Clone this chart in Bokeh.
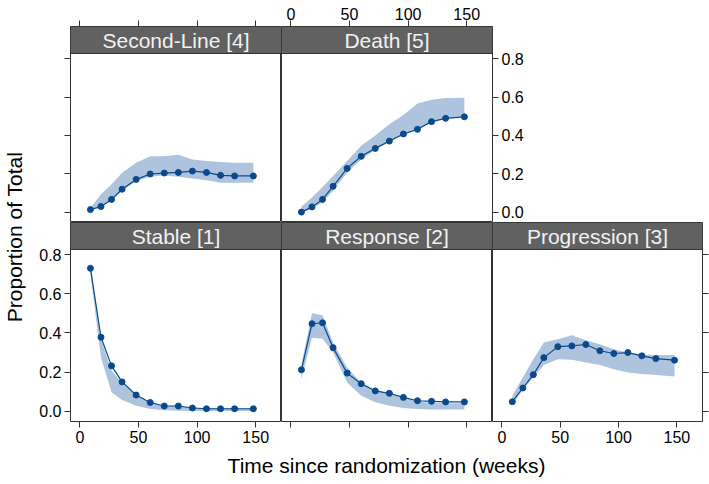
from bokeh.plotting import figure
from bokeh.layouts import row, column
from bokeh.models import (Range1d, FixedTicker, NumeralTickFormatter, LinearAxis,
                          BoxAnnotation, Label)
from bokeh.embed import file_html
from bokeh.resources import INLINE
from bokeh.core.validation import silence
from bokeh.core.validation.warnings import MISSING_RENDERERS

silence(MISSING_RENDERERS, True)

# ---------------- data ----------------
weeks = [9, 18, 27, 36, 48, 60, 72, 84, 96, 108, 120, 132, 148]

stable_mid = [0.730, 0.378, 0.232, 0.150, 0.083, 0.045, 0.027, 0.027, 0.017, 0.013, 0.013, 0.013, 0.013]
stable_lo = [0.700, 0.275, 0.097, 0.058, 0.029, 0.012, 0.005, 0.003, 0.002, 0.002, 0.002, 0.002, 0.002]
stable_hi = [0.760, 0.368, 0.207, 0.147, 0.083, 0.045, 0.027, 0.030, 0.020, 0.015, 0.015, 0.015, 0.015]

response_mid = [0.212, 0.447, 0.452, 0.325, 0.195, 0.141, 0.104, 0.092, 0.071, 0.054, 0.051, 0.048, 0.048]
response_lo = [0.165, 0.376, 0.370, 0.300, 0.147, 0.080, 0.046, 0.029, 0.017, 0.012, 0.009, 0.009, 0.009]
response_hi = [0.240, 0.500, 0.490, 0.351, 0.224, 0.145, 0.110, 0.090, 0.070, 0.052, 0.043, 0.041, 0.041]

progression_mid = [0.049, 0.119, 0.187, 0.274, 0.330, 0.334, 0.341, 0.309, 0.295, 0.300, 0.283, 0.269, 0.261]
progression_lo = [0.035, 0.110, 0.173, 0.236, 0.266, 0.263, 0.249, 0.236, 0.215, 0.198, 0.190, 0.185, 0.178]
progression_hi = [0.080, 0.173, 0.266, 0.351, 0.368, 0.388, 0.363, 0.342, 0.317, 0.300, 0.290, 0.287, 0.287]

secondline_mid = [0.015, 0.031, 0.068, 0.121, 0.172, 0.200, 0.205, 0.208, 0.215, 0.208, 0.193, 0.190, 0.190]
secondline_lo = [0.010, 0.027, 0.061, 0.113, 0.164, 0.186, 0.192, 0.186, 0.176, 0.168, 0.155, 0.155, 0.155]
secondline_hi = [0.022, 0.095, 0.147, 0.207, 0.258, 0.292, 0.292, 0.300, 0.275, 0.267, 0.262, 0.258, 0.258]

death_mid = [0.002, 0.029, 0.068, 0.136, 0.229, 0.292, 0.333, 0.371, 0.408, 0.432, 0.472, 0.489, 0.497]
death_lo = [0.000, 0.020, 0.053, 0.113, 0.207, 0.275, 0.326, 0.366, 0.403, 0.432, 0.468, 0.489, 0.497]
death_hi = [0.030, 0.078, 0.133, 0.190, 0.267, 0.347, 0.400, 0.458, 0.506, 0.566, 0.586, 0.595, 0.596]

x_ticks = [0, 50, 100, 150]
y_ticks = [0.0, 0.2, 0.4, 0.6, 0.8]

# ---------------- style / geometry ----------------
FONT = "Liberation Sans"
EDGE = "#333333"
BLUE = "#0a4a8c"
BAND = "#aec4de"
STRIP_FILL = "#616161"
STRIP_TEXT = "#f2f2f2"

X0, X1 = -8.0, 172.0
Y0, Y1 = -0.052, 0.826

PW = [211, 211, 210]   # panel (frame) widths per column
STRIP_H = 27           # strip height
PA, PB = 169, 172      # panel heights (top row, bottom row)
TOP_B = 26
BOT_B = 28
YLAB_W = 25
LEFT_B = 70 - YLAB_W
RIGHT_B = 7


def make_axis(dim, show_labels, standoff=3, **extra):
    ax = LinearAxis(
        ticker=FixedTicker(ticks=x_ticks if dim == "x" else y_ticks),
        axis_line_color=None,
        major_tick_in=0, major_tick_out=6,
        major_tick_line_color=EDGE, major_tick_line_width=1,
        minor_tick_line_color=None,
        major_label_standoff=standoff,
        major_label_text_font=FONT,
        major_label_text_font_size="16px",
        major_label_text_color="black" if show_labels else None,
        **extra)
    if dim == "y":
        ax.formatter = NumeralTickFormatter(format="0.0")
    return ax


def make_panel(name, lo, mid, hi, col, panel_h, left, right, top, bottom, axes):
    width = left + PW[col] + right
    height = top + STRIP_H + panel_h + bottom
    y_end = Y1 + (Y1 - Y0) * STRIP_H / panel_h
    p = figure(width=width, height=height,
               x_range=Range1d(X0, X1), y_range=Range1d(Y0, y_end),
               output_backend="svg", toolbar_location=None,
               x_axis_location=None, y_axis_location=None,
               min_border_left=left, min_border_right=right,
               min_border_top=top, min_border_bottom=bottom,
               outline_line_color=EDGE, outline_line_width=1, outline_line_alpha=1)
    p.grid.visible = False
    p.varea(x=weeks, y1=lo, y2=hi, fill_color=BAND, fill_alpha=1)
    p.line(weeks, mid, line_color=BLUE, line_width=1.2)
    p.scatter(weeks, mid, size=6, fill_color=BLUE, line_color=BLUE)
    p.add_layout(BoxAnnotation(bottom=Y1, fill_color=STRIP_FILL, fill_alpha=1,
                               line_color=EDGE, line_alpha=1, line_width=1))
    p.add_layout(Label(x=(X0 + X1) / 2, y=(Y1 + y_end) / 2, text=name,
                       text_align="center", text_baseline="middle",
                       text_font=FONT, text_font_size="21px", text_color=STRIP_TEXT))
    for side, ax in axes:
        p.add_layout(ax, side)
    return p


# top row
f4 = make_panel("Second-Line [4]", secondline_lo, secondline_mid, secondline_hi, 0, PA,
                LEFT_B, 0, TOP_B, 0,
                [("left", make_axis("y", False)), ("above", make_axis("x", False, standoff=1))])
f5 = make_panel("Death [5]", death_lo, death_mid, death_hi, 1, PA,
                0, 45, TOP_B, 0,
                [("right", make_axis("y", True)), ("above", make_axis("x", True, standoff=1))])

# bottom row
f1 = make_panel("Stable [1]", stable_lo, stable_mid, stable_hi, 0, PB,
                LEFT_B, 0, 0, BOT_B,
                [("left", make_axis("y", True)), ("below", make_axis("x", True))])
f2 = make_panel("Response [2]", response_lo, response_mid, response_hi, 1, PB,
                0, 0, 0, BOT_B,
                [("below", make_axis("x", False))])
f3 = make_panel("Progression [3]", progression_lo, progression_mid, progression_hi, 2, PB,
                0, RIGHT_B, 0, BOT_B,
                [("right", make_axis("y", False)), ("below", make_axis("x", True))])

# x-axis title holder (spans the three columns)
XLAB_H = 33
xlab = figure(width=LEFT_B + sum(PW) + RIGHT_B, height=XLAB_H,
              x_range=Range1d(0, 1), y_range=Range1d(0, 1),
              output_backend="svg", toolbar_location=None,
              x_axis_location=None, y_axis_location=None,
              min_border_left=LEFT_B, min_border_right=RIGHT_B,
              min_border_top=0, min_border_bottom=XLAB_H - 1,
              outline_line_color=None)
xlab.grid.visible = False
xlab.add_layout(LinearAxis(ticker=FixedTicker(ticks=[]), axis_line_color=None,
                           major_tick_in=0, major_tick_out=0, major_tick_line_color=None,
                           minor_tick_line_color=None, major_label_standoff=0,
                           axis_label="Time since randomization (weeks)", axis_label_standoff=3,
                           axis_label_text_font=FONT, axis_label_text_font_size="21px",
                           axis_label_text_font_style="normal",
                           axis_label_text_color="black"), "below")

TOTAL_H = (TOP_B + STRIP_H + PA) + (STRIP_H + PB + BOT_B) + XLAB_H

# y-axis title holder (spans the two rows)
ylab = figure(width=YLAB_W, height=TOTAL_H, x_range=Range1d(0, 1), y_range=Range1d(0, 1),
              output_backend="svg", toolbar_location=None,
              x_axis_location=None, y_axis_location=None,
              min_border_left=YLAB_W - 1, min_border_right=0,
              min_border_top=20, min_border_bottom=29,
              outline_line_color=None)
ylab.grid.visible = False
ylab.add_layout(LinearAxis(ticker=FixedTicker(ticks=[]), axis_line_color=None,
                           major_tick_in=0, major_tick_out=0, major_tick_line_color=None,
                           minor_tick_line_color=None, major_label_standoff=0,
                           axis_label="Proportion of Total", axis_label_standoff=0,
                           axis_label_text_font=FONT, axis_label_text_font_size="21px",
                           axis_label_text_font_style="normal",
                           axis_label_text_color="black"), "left")

layout = row(ylab, column(row(f4, f5), row(f1, f2, f3), xlab))

open("out.html", "w").write(file_html(layout, INLINE))
